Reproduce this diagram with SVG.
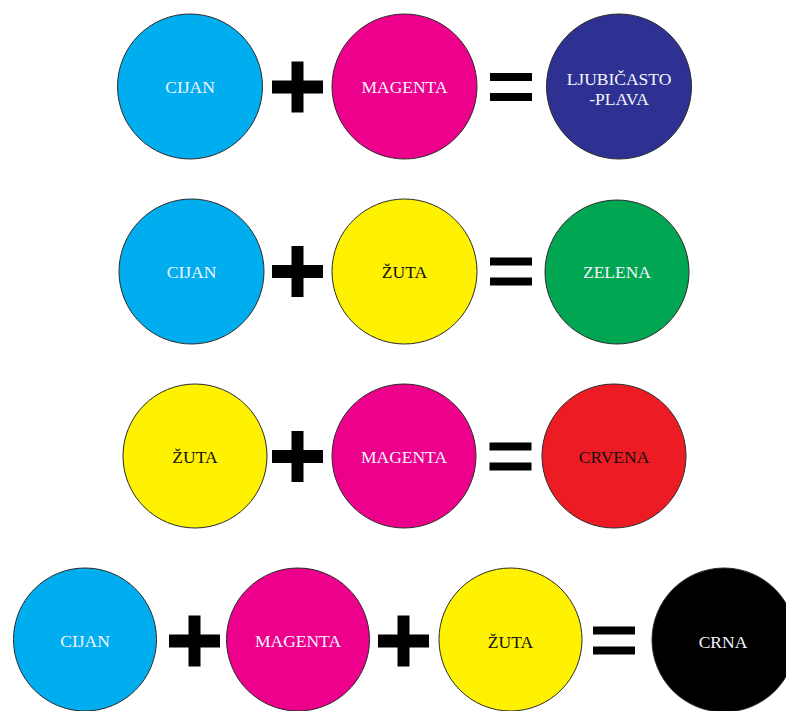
<svg xmlns="http://www.w3.org/2000/svg" width="786" height="711" viewBox="0 0 786 711">
<style>
.c{stroke:#2a2a2a;stroke-width:1}
.t{font-family:"Liberation Serif","Times New Roman",serif;font-size:17.5px;text-anchor:middle}
.w{fill:#f4f4ff}
.k{fill:#111}
.op{fill:#000}
.cy{fill:#00aeef}.mg{fill:#ec008c}.bl{fill:#2e3192}.ye{fill:#fff200}.gr{fill:#00a651}.rd{fill:#ed1c24}.bk{fill:#000}
</style>
<defs>
<g id="plus"><rect x="-25.5" y="-6.5" width="51" height="13"/><rect x="-6" y="-25.5" width="12" height="51"/></g>
<g id="eq"><rect x="-21" y="-14" width="42" height="8"/><rect x="-21" y="6" width="42" height="8"/></g>
</defs>
<rect width="786" height="711" fill="#fff"/>
<g id="operators" class="op">
<use href="#plus" x="297.5" y="87"/>
<use href="#eq" x="511" y="87"/>
<use href="#plus" x="297.5" y="271.5"/>
<use href="#eq" x="511" y="271.5"/>
<use href="#plus" x="297.5" y="456.5"/>
<use href="#eq" x="510.5" y="456.5"/>
<use href="#plus" x="194.5" y="641"/>
<use href="#plus" x="403.5" y="641"/>
<use href="#eq" x="614" y="640.5"/>
</g>
<g id="r1-cijan"><circle class="c cy" cx="190" cy="86.5" r="72.5"/><text class="t w" x="190" y="93">CIJAN</text></g>
<g id="r1-magenta"><circle class="c mg" cx="404.5" cy="86.5" r="72.5"/><text class="t w" x="404.5" y="93">MAGENTA</text></g>
<g id="r1-ljubicasto"><circle class="c bl" cx="619" cy="86.5" r="72.5"/><text class="t w" x="619" y="85">LJUBIČASTO</text><text class="t w" x="619" y="105">-PLAVA</text></g>
<g id="r2-cijan"><circle class="c cy" cx="191.5" cy="271.5" r="72.5"/><text class="t w" x="191.5" y="278">CIJAN</text></g>
<g id="r2-zuta"><circle class="c ye" cx="404.5" cy="271.5" r="72.5"/><text class="t k" x="404.5" y="278">ŽUTA</text></g>
<g id="r2-zelena"><circle class="c gr" cx="617" cy="272" r="72"/><text class="t w" x="617" y="278">ZELENA</text></g>
<g id="r3-zuta"><circle class="c ye" cx="195" cy="456" r="72"/><text class="t k" x="195" y="463">ŽUTA</text></g>
<g id="r3-magenta"><circle class="c mg" cx="404" cy="456" r="72"/><text class="t w" x="404" y="463">MAGENTA</text></g>
<g id="r3-crvena"><circle class="c rd" cx="614" cy="456" r="72"/><text class="t k" x="614" y="463">CRVENA</text></g>
<g id="r4-cijan"><circle class="c cy" cx="85" cy="639.5" r="71.5"/><text class="t w" x="85" y="647">CIJAN</text></g>
<g id="r4-magenta"><circle class="c mg" cx="298" cy="639.5" r="71.5"/><text class="t w" x="298" y="647">MAGENTA</text></g>
<g id="r4-zuta"><circle class="c ye" cx="510.5" cy="639.5" r="71.5"/><text class="t k" x="510.5" y="648">ŽUTA</text></g>
<g id="r4-crna"><circle class="c bk" cx="724" cy="640" r="72"/><text class="t w" x="723" y="648">CRNA</text></g>
</svg>
